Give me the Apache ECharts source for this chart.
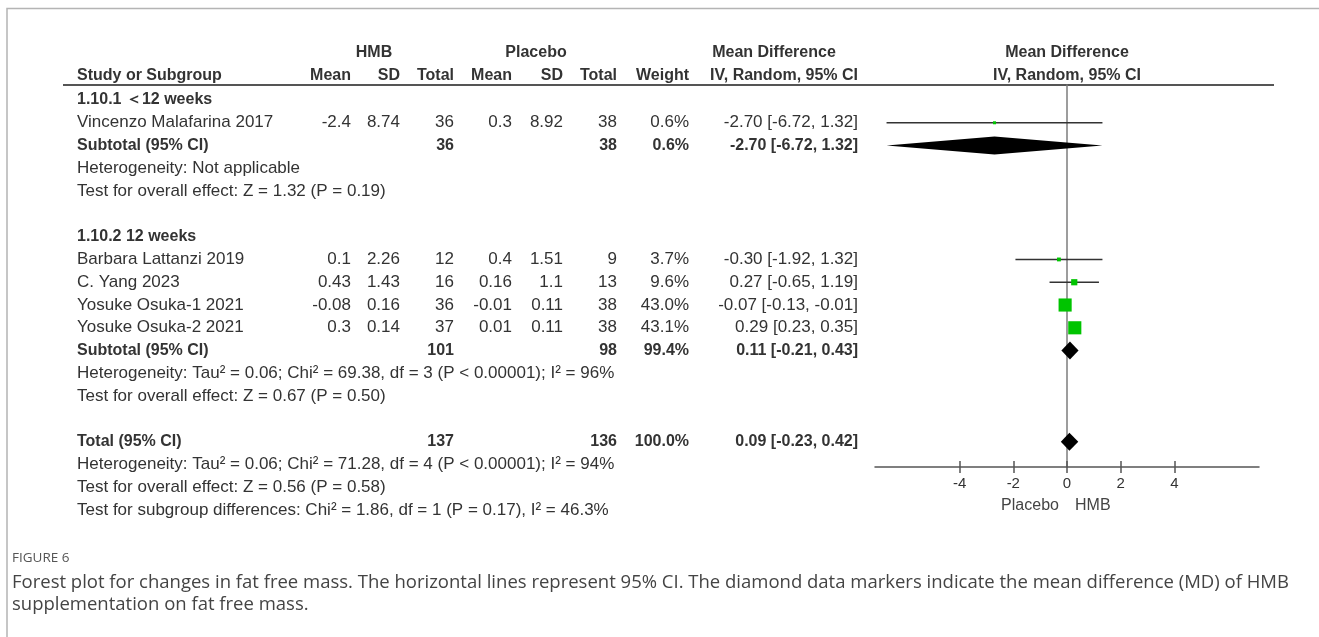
<!DOCTYPE html>
<html>
<head>
<meta charset="utf-8">
<script src="https://cdn.jsdelivr.net/npm/echarts@6/dist/echarts.min.js"></script>
<style>
  html, body { margin: 0; padding: 0; background: #fff; }
  #chart { width: 1319px; height: 637px; }
</style>
</head>
<body>
<div id="chart"></div>
<script>
// ---- Study-level data ----
const studies  = ['Vincenzo Malafarina 2017', 'Barbara Lattanzi 2019', 'C. Yang 2023', 'Yosuke Osuka-1 2021', 'Yosuke Osuka-2 2021'];
const hmbMean  = [-2.4, 0.1, 0.43, -0.08, 0.3];
const hmbSD    = [8.74, 2.26, 1.43, 0.16, 0.14];
const hmbN     = [36, 12, 16, 36, 37];
const plcMean  = [0.3, 0.4, 0.16, -0.01, 0.01];
const plcSD    = [8.92, 1.51, 1.1, 0.11, 0.11];
const plcN     = [38, 9, 13, 38, 38];
const weights  = [0.6, 3.7, 9.6, 43.0, 43.1];
const md       = [-2.70, -0.30, 0.27, -0.07, 0.29];
const ciLow    = [-6.72, -1.92, -0.65, -0.13, 0.23];
const ciHigh   = [1.32, 1.32, 1.19, -0.01, 0.35];
const studyRows = [1, 7, 8, 9, 10];

// ---- Pooled estimates: subtotal 1, subtotal 2, overall ----
const pooledLabels = ['Subtotal (95% CI)', 'Subtotal (95% CI)', 'Total (95% CI)'];
const pooledHmbN   = [36, 101, 137];
const pooledPlcN   = [38, 98, 136];
const pooledWeight = [0.6, 99.4, 100.0];
const pooledMd     = [-2.70, 0.11, 0.09];
const pooledLow    = [-6.72, -0.21, -0.23];
const pooledHigh   = [1.32, 0.43, 0.42];
const pooledRows   = [2, 11, 15];

// ---- Subgroup headings and test statistics ----
const groupLabels = ['1.10.1 \uFF1C12 weeks', '1.10.2 12 weeks'];
const groupRows   = [0, 6];
const noteLines = [
  'Heterogeneity: Not applicable',
  'Test for overall effect: Z = 1.32 (P = 0.19)',
  'Heterogeneity: Tau\u00B2 = 0.06; Chi\u00B2 = 69.38, df = 3 (P < 0.00001); I\u00B2 = 96%',
  'Test for overall effect: Z = 0.67 (P = 0.50)',
  'Heterogeneity: Tau\u00B2 = 0.06; Chi\u00B2 = 71.28, df = 4 (P < 0.00001); I\u00B2 = 94%',
  'Test for overall effect: Z = 0.56 (P = 0.58)',
  'Test for subgroup differences: Chi\u00B2 = 1.86, df = 1 (P = 0.17), I\u00B2 = 46.3%'
];
const noteRows = [3, 4, 12, 13, 16, 17, 18];

// ---- Axis ----
const tickValues = [-4, -2, 0, 2, 4];
const favourLeft = 'Placebo';
const favourRight = 'HMB';

const captionTitle = 'FIGURE 6';
const captionLines = [
  'Forest plot for changes in fat free mass. The horizontal lines represent 95% CI. The diamond data markers indicate the mean difference (MD) of HMB',
  'supplementation on fat free mass.'
];

// ---- Layout ----
const FONT = '"Liberation Sans", Arial, sans-serif';
const TEXT = '#333';
const GREEN = '#00c400';
const ROW_MIN = -0.6585, ROW_MAX = 16.111;
const cols = { study: 77, m1: 351, sd1: 400, n1: 454, m2: 512, sd2: 563, n2: 617, w: 689, ci: 858 };

const fmtCI = (m, l, h) => m.toFixed(2) + ' [' + l.toFixed(2) + ', ' + h.toFixed(2) + ']';

const studyData = studies.map((s, i) => [md[i], studyRows[i], ciLow[i], ciHigh[i], weights[i]]);
const pooledData = pooledMd.map((m, i) => [m, pooledRows[i], pooledLow[i], pooledHigh[i]]);

const chart = echarts.init(document.getElementById('chart'), null, { renderer: 'canvas' });

const axisBase = {
  type: 'value', min: -7.15, max: 7.15, position: 'bottom',
  splitLine: { show: false }
};

chart.setOption({
  animation: false,
  backgroundColor: '#fff',
  grid: { left: 875, right: 60, top: 85, bottom: 170, containLabel: false },
  xAxis: [
    Object.assign({}, axisBase, {
      axisLine: { show: true, onZero: false, lineStyle: { color: '#555', width: 1.5 } },
      axisTick: { show: true, inside: true, length: 6, customValues: tickValues, lineStyle: { color: '#555', width: 1.5 } },
      axisLabel: { show: true, customValues: tickValues, margin: 9, fontSize: 15, fontFamily: FONT, color: TEXT }
    }),
    Object.assign({}, axisBase, {
      axisLine: { show: false, onZero: false },
      axisTick: { show: true, inside: false, length: 6, customValues: tickValues, lineStyle: { color: '#555', width: 1.5 } },
      axisLabel: { show: false }
    })
  ],
  yAxis: {
    type: 'value', inverse: true, min: ROW_MIN, max: ROW_MAX,
    axisLine: { show: true, onZero: true, lineStyle: { color: '#7d7d7d', width: 1.5 } },
    axisTick: { show: false }, axisLabel: { show: false }, splitLine: { show: false }
  },
  series: [
    {
      type: 'custom', name: 'studies', xAxisIndex: 0, yAxisIndex: 0,
      encode: { x: [0, 2, 3], y: 1 },
      data: studyData,
      renderItem: function (params, api) {
        const row = api.value(1);
        const a = api.coord([api.value(2), row]);
        const b = api.coord([api.value(3), row]);
        const c = api.coord([api.value(0), row]);
        const s = Math.max(3, 2 * Math.sqrt(api.value(4)));
        return {
          type: 'group',
          children: [
            { type: 'line', shape: { x1: a[0], y1: a[1], x2: b[0], y2: b[1] }, style: { stroke: '#333', lineWidth: 1.5 } },
            { type: 'rect', shape: { x: c[0] - s / 2, y: c[1] - s / 2, width: s, height: s }, style: { fill: GREEN } }
          ]
        };
      }
    },
    {
      type: 'custom', name: 'pooled', xAxisIndex: 0, yAxisIndex: 0,
      encode: { x: [0, 2, 3], y: 1 },
      data: pooledData,
      renderItem: function (params, api) {
        const row = api.value(1);
        const l = api.coord([api.value(2), row]);
        const h = api.coord([api.value(3), row]);
        const c = api.coord([api.value(0), row]);
        const half = 9;
        return {
          type: 'polygon',
          shape: { points: [[l[0], l[1]], [c[0], c[1] - half], [h[0], h[1]], [c[0], c[1] + half]] },
          style: { fill: '#000' }
        };
      }
    }
  ]
});

// ---- Table text, placed on the same row scale as the plot ----
const rowY = r => chart.convertToPixel({ yAxisIndex: 0 }, r);
const xAt = v => chart.convertToPixel({ xAxisIndex: 0 }, v);

function txt(str, x, y, opts) {
  opts = opts || {};
  return {
    type: 'text', x: x, y: y, silent: true,
    style: {
      text: str, align: opts.align || 'left', verticalAlign: 'middle',
      fontSize: opts.size || 17, fontFamily: opts.family || FONT,
      fontWeight: opts.bold ? 'bold' : 'normal', fill: opts.color || TEXT
    }
  };
}

const g = [];
// frame
g.push({ type: 'rect', shape: { x: 7, y: 8.5, width: 1400, height: 700 }, style: { fill: 'none', stroke: '#b4b4b4', lineWidth: 1.5 }, silent: true });

// header
const H1 = 53, H2 = 76;
const B = { bold: true, size: 16 };
g.push(txt('HMB', 374, H1, { bold: true, size: 16, align: 'center' }));
g.push(txt('Placebo', 536, H1, { bold: true, size: 16, align: 'center' }));
g.push(txt('Mean Difference', 774, H1, { bold: true, size: 16, align: 'center' }));
g.push(txt('Mean Difference', xAt(0), H1, { bold: true, size: 16, align: 'center' }));
g.push(txt('Study or Subgroup', cols.study, H2, B));
g.push(txt('Mean', cols.m1, H2, Object.assign({ align: 'right' }, B)));
g.push(txt('SD', cols.sd1, H2, Object.assign({ align: 'right' }, B)));
g.push(txt('Total', cols.n1, H2, Object.assign({ align: 'right' }, B)));
g.push(txt('Mean', cols.m2, H2, Object.assign({ align: 'right' }, B)));
g.push(txt('SD', cols.sd2, H2, Object.assign({ align: 'right' }, B)));
g.push(txt('Total', cols.n2, H2, Object.assign({ align: 'right' }, B)));
g.push(txt('Weight', cols.w, H2, Object.assign({ align: 'right' }, B)));
g.push(txt('IV, Random, 95% CI', cols.ci, H2, Object.assign({ align: 'right' }, B)));
g.push(txt('IV, Random, 95% CI', xAt(0), H2, { bold: true, size: 16, align: 'center' }));
g.push({ type: 'line', shape: { x1: 63, y1: 85, x2: 1274, y2: 85 }, style: { stroke: '#555', lineWidth: 2 }, silent: true });

// subgroup headings
groupLabels.forEach((s, i) => g.push(txt(s, cols.study, rowY(groupRows[i]), B)));

// study rows
studies.forEach((s, i) => {
  const y = rowY(studyRows[i]);
  g.push(txt(s, cols.study, y));
  g.push(txt(String(hmbMean[i]), cols.m1, y, { align: 'right' }));
  g.push(txt(String(hmbSD[i]), cols.sd1, y, { align: 'right' }));
  g.push(txt(String(hmbN[i]), cols.n1, y, { align: 'right' }));
  g.push(txt(String(plcMean[i]), cols.m2, y, { align: 'right' }));
  g.push(txt(String(plcSD[i]), cols.sd2, y, { align: 'right' }));
  g.push(txt(String(plcN[i]), cols.n2, y, { align: 'right' }));
  g.push(txt(weights[i].toFixed(1) + '%', cols.w, y, { align: 'right' }));
  g.push(txt(fmtCI(md[i], ciLow[i], ciHigh[i]), cols.ci, y, { align: 'right' }));
});

// pooled rows
pooledLabels.forEach((s, i) => {
  const y = rowY(pooledRows[i]);
  g.push(txt(s, cols.study, y, B));
  g.push(txt(String(pooledHmbN[i]), cols.n1, y, Object.assign({ align: 'right' }, B)));
  g.push(txt(String(pooledPlcN[i]), cols.n2, y, Object.assign({ align: 'right' }, B)));
  g.push(txt(pooledWeight[i].toFixed(1) + '%', cols.w, y, Object.assign({ align: 'right' }, B)));
  g.push(txt(fmtCI(pooledMd[i], pooledLow[i], pooledHigh[i]), cols.ci, y, Object.assign({ align: 'right' }, B)));
});

// heterogeneity and effect tests
noteLines.forEach((s, i) => g.push(txt(s, cols.study, rowY(noteRows[i]))));

// favours labels under the axis
g.push(txt(favourLeft, xAt(-0.3), 506, { align: 'right', size: 16, color: '#444' }));
g.push(txt(favourRight, xAt(0.3), 506, { align: 'left', size: 16, color: '#444' }));

// caption
const CAP = '"Open Sans", "Noto Sans", sans-serif';
g.push(txt(captionTitle, 12, 558, { size: 13.5, family: CAP, color: '#555' }));
captionLines.forEach((s, i) => g.push(txt(s, 12, 583 + i * 22, { size: 18.5, family: CAP, color: '#444' })));

chart.setOption({ graphic: { elements: g } });
</script>
</body>
</html>
